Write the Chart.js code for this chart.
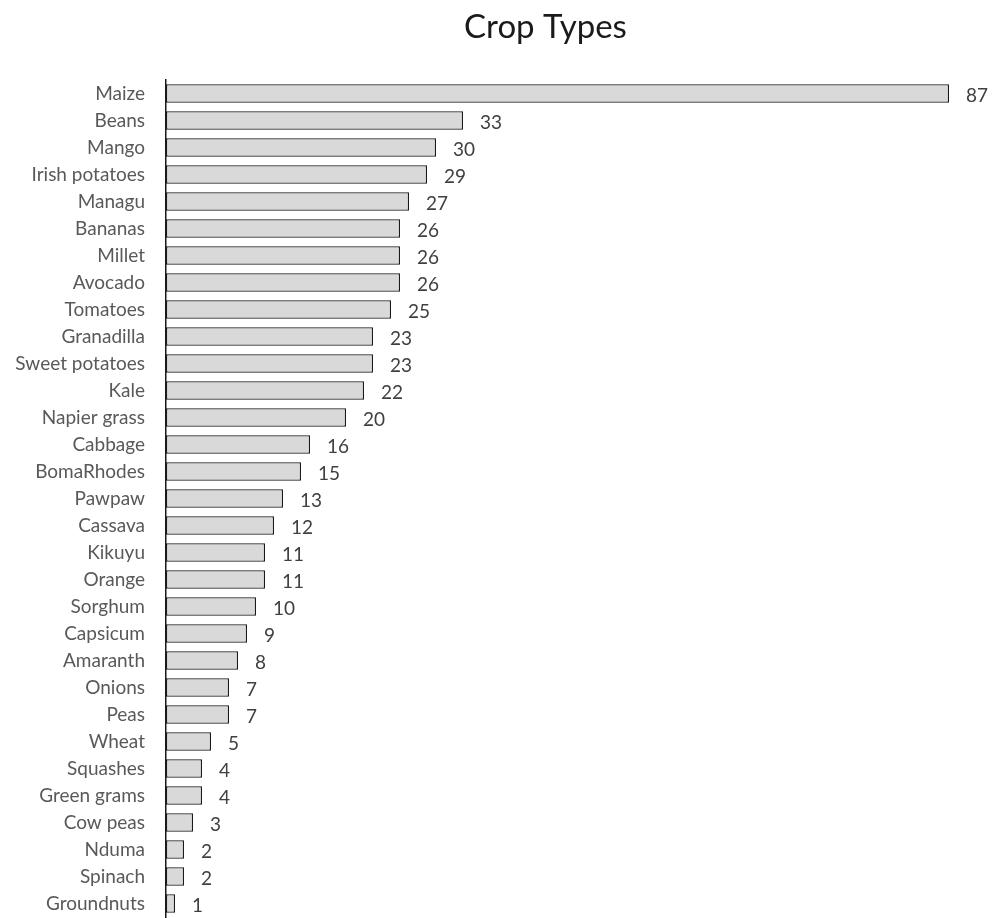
<!DOCTYPE html>
<html>
<head>
<meta charset="utf-8">
<script src="https://cdn.jsdelivr.net/npm/chart.js@4.4.1/dist/chart.umd.min.js"></script>
<style>
  html, body { margin: 0; padding: 0; background: #ffffff; }
  #wrap { width: 992px; height: 918px; }
</style>
</head>
<body>
<div id="wrap"><canvas id="c" width="992" height="918"></canvas></div>
<script>
const crops = ["Maize", "Beans", "Mango", "Irish potatoes", "Managu", "Bananas", "Millet", "Avocado",
  "Tomatoes", "Granadilla", "Sweet potatoes", "Kale", "Napier grass", "Cabbage", "BomaRhodes",
  "Pawpaw", "Cassava", "Kikuyu", "Orange", "Sorghum", "Capsicum", "Amaranth", "Onions", "Peas",
  "Wheat", "Squashes", "Green grams", "Cow peas", "Nduma", "Spinach", "Groundnuts"];
const counts = [87, 33, 30, 29, 27, 26, 26, 26, 25, 23, 23, 22, 20, 16, 15, 13, 12, 11, 11, 10,
  9, 8, 7, 7, 5, 4, 4, 3, 2, 2, 1];
const chartTitle = "Crop Types";

const FONT = "Lato, 'Open Sans', sans-serif";

// Title centred over the plot area
const titlePlugin = {
  id: 'plotTitle',
  afterDraw(chart) {
    const { ctx, chartArea } = chart;
    ctx.save();
    ctx.font = "33px " + FONT;
    ctx.fillStyle = "#1a1a1a";
    ctx.textAlign = "center";
    ctx.textBaseline = "alphabetic";
    ctx.fillText(chartTitle, (chartArea.left + chartArea.right) / 2 - 12, 38);
    ctx.restore();
  }
};

// Value labels at the end of each bar
const valuePlugin = {
  id: 'barValues',
  afterDatasetsDraw(chart) {
    const { ctx } = chart;
    const meta = chart.getDatasetMeta(0);
    ctx.save();
    ctx.font = "19px " + FONT;
    ctx.fillStyle = "#404040";
    ctx.textAlign = "left";
    ctx.textBaseline = "middle";
    meta.data.forEach((bar, i) => {
      ctx.fillText(String(counts[i]), bar.x + 17, bar.y + 2);
    });
    ctx.restore();
  }
};

new Chart(document.getElementById('c'), {
  type: 'bar',
  data: {
    labels: crops,
    datasets: [{
      data: counts,
      backgroundColor: '#d9d9d9',
      borderColor: '#1a1a1a',
      borderWidth: 1.3,
      borderSkipped: false,
      categoryPercentage: 1.0,
      barPercentage: 0.68
    }]
  },
  options: {
    indexAxis: 'y',
    responsive: false,
    animation: false,
    layout: { padding: { top: 80, right: 43, bottom: 1, left: 0 } },
    plugins: {
      legend: { display: false },
      title: { display: false },
      tooltip: { enabled: false }
    },
    scales: {
      x: {
        display: false,
        min: 0,
        max: 87
      },
      y: {
        afterFit(scale) {
          // fixed gutter for the category names; the axis runs the full plot height
          scale.width = 166;
          scale.paddingTop = 0;
          scale.paddingBottom = 0;
        },
        grid: { display: false, drawTicks: false },
        border: { display: true, color: '#1a1a1a', width: 1.5 },
        ticks: {
          padding: 21,
          color: '#595959',
          font: { family: FONT, size: 19 },
          autoSkip: false
        }
      }
    }
  },
  plugins: [titlePlugin, valuePlugin]
});
</script>
</body>
</html>
